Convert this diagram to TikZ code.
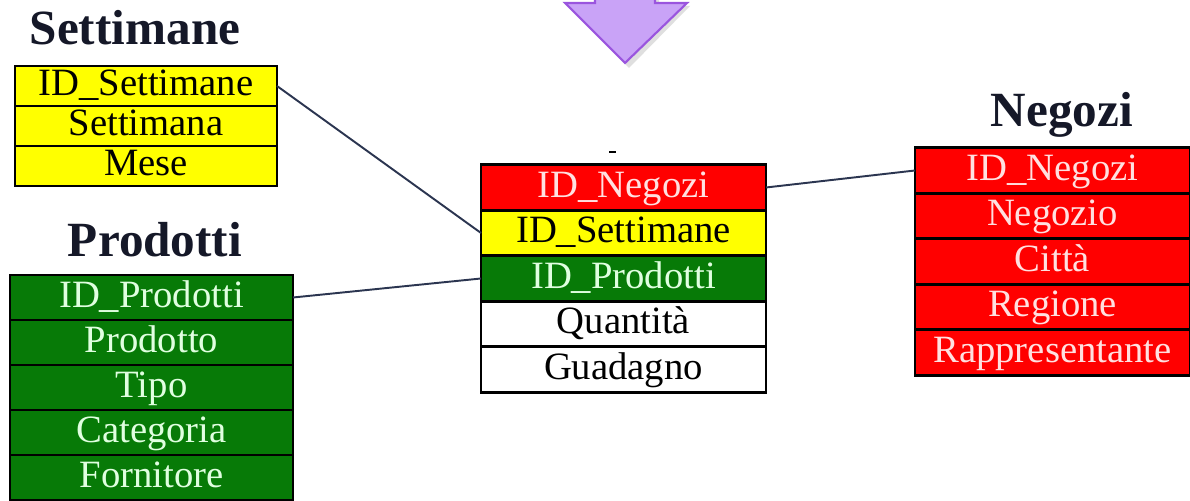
\documentclass[tikz,border=0pt]{standalone}
\usepackage{fontspec}
\setmainfont{Liberation Serif}
\usetikzlibrary{positioning}
\definecolor{giallo}{HTML}{FFFF00}
\definecolor{rosso}{HTML}{FF0000}
\definecolor{verde}{HTML}{077A07}
\definecolor{viola}{HTML}{C9A3F7}
\definecolor{violabordo}{HTML}{9A55DE}
\definecolor{linea}{HTML}{2B3550}
\definecolor{titolo}{HTML}{151828}
\tikzset{
	campo/.style={draw=black, line width=1.5pt, inner sep=0pt, outer sep=0pt, font=\fontsize{22}{24}\selectfont, text height=15pt, text depth=4pt},
	gialla/.style={campo, fill=giallo, text=black},
	rossa/.style={campo, fill=rosso, text=white!88!red},
	verdina/.style={campo, fill=verde, text=white!88!green},
	bianca/.style={campo, fill=white, text=black},
	titolotab/.style={font=\fontsize{28}{30}\selectfont\bfseries, text=titolo},
	connettore/.style={draw=linea, line width=1.1pt}
}
\begin{document}
\begin{tikzpicture}
	\useasboundingbox (0,0) rectangle (23.8,10.02);
	% Freccia
		\fill[black!25, opacity=0.5] (11.98,10.2) -- (11.98,9.9) -- (11.4,9.9) -- (12.58,8.66) -- (13.8,9.9) -- (13.18,9.9) -- (13.18,10.2) -- cycle;
		\draw[fill=viola, draw=violabordo, line width=1.2pt, line join=miter] (11.9,10.2) -- (11.9,9.96) -- (11.3,9.96) -- (12.5,8.76) -- (13.74,9.96) -- (13.1,9.96) -- (13.1,10.2) -- cycle;
	% Settimane
		\node[titolotab] (tset) at (2.7,9.46) {Settimane};
		\begin{scope}[every node/.append style={minimum width=5.24cm, minimum height=0.8cm}]
			\node[gialla] (set1) at (2.92,8.3) {ID\_Settimane};
			\node[gialla, below=0pt of set1] (set2) {Settimana};
			\node[gialla, below=0pt of set2] (set3) {Mese};
		\end{scope}
	% Prodotti
		\node[titolotab] (tpro) at (3.1,5.22) {Prodotti};
		\begin{scope}[every node/.append style={minimum width=5.66cm, minimum height=0.9cm}]
			\node[verdina] (pro1) at (3.03,4.07) {ID\_Prodotti};
			\node[verdina, below=0pt of pro1] (pro2) {Prodotto};
			\node[verdina, below=0pt of pro2] (pro3) {Tipo};
			\node[verdina, below=0pt of pro3] (pro4) {Categoria};
			\node[verdina, below=0pt of pro4] (pro5) {Fornitore};
		\end{scope}
	% Fatti
		\draw[line width=1pt] (12.18,6.98) -- (12.32,6.98);
		\begin{scope}[every node/.append style={minimum width=5.7cm, minimum height=0.91cm}]
			\node[rossa] (fat1) at (12.47,6.27) {ID\_Negozi};
			\node[gialla, below=0pt of fat1] (fat2) {ID\_Settimane};
			\node[verdina, below=0pt of fat2] (fat3) {ID\_Prodotti};
			\node[bianca, below=0pt of fat3] (fat4) {Quantità};
			\node[bianca, below=0pt of fat4] (fat5) {Guadagno};
		\end{scope}
	% Negozi
		\node[titolotab] (tneg) at (21.24,7.72) {Negozi};
		\begin{scope}[every node/.append style={minimum width=5.5cm, minimum height=0.91cm}]
			\node[rossa] (neg1) at (21.05,6.61) {ID\_Negozi};
			\node[rossa, below=0pt of neg1] (neg2) {Negozio};
			\node[rossa, below=0pt of neg2] (neg3) {Città};
			\node[rossa, below=0pt of neg3] (neg4) {Regione};
			\node[rossa, below=0pt of neg4] (neg5) {Rappresentante};
		\end{scope}
	% Collegamenti
		\draw[connettore] (set1.east) -- (fat2.west);
		\draw[connettore] (pro1.east) -- (fat3.west);
		\draw[connettore] (fat1.east) -- (neg1.west);
\end{tikzpicture}
\end{document}
